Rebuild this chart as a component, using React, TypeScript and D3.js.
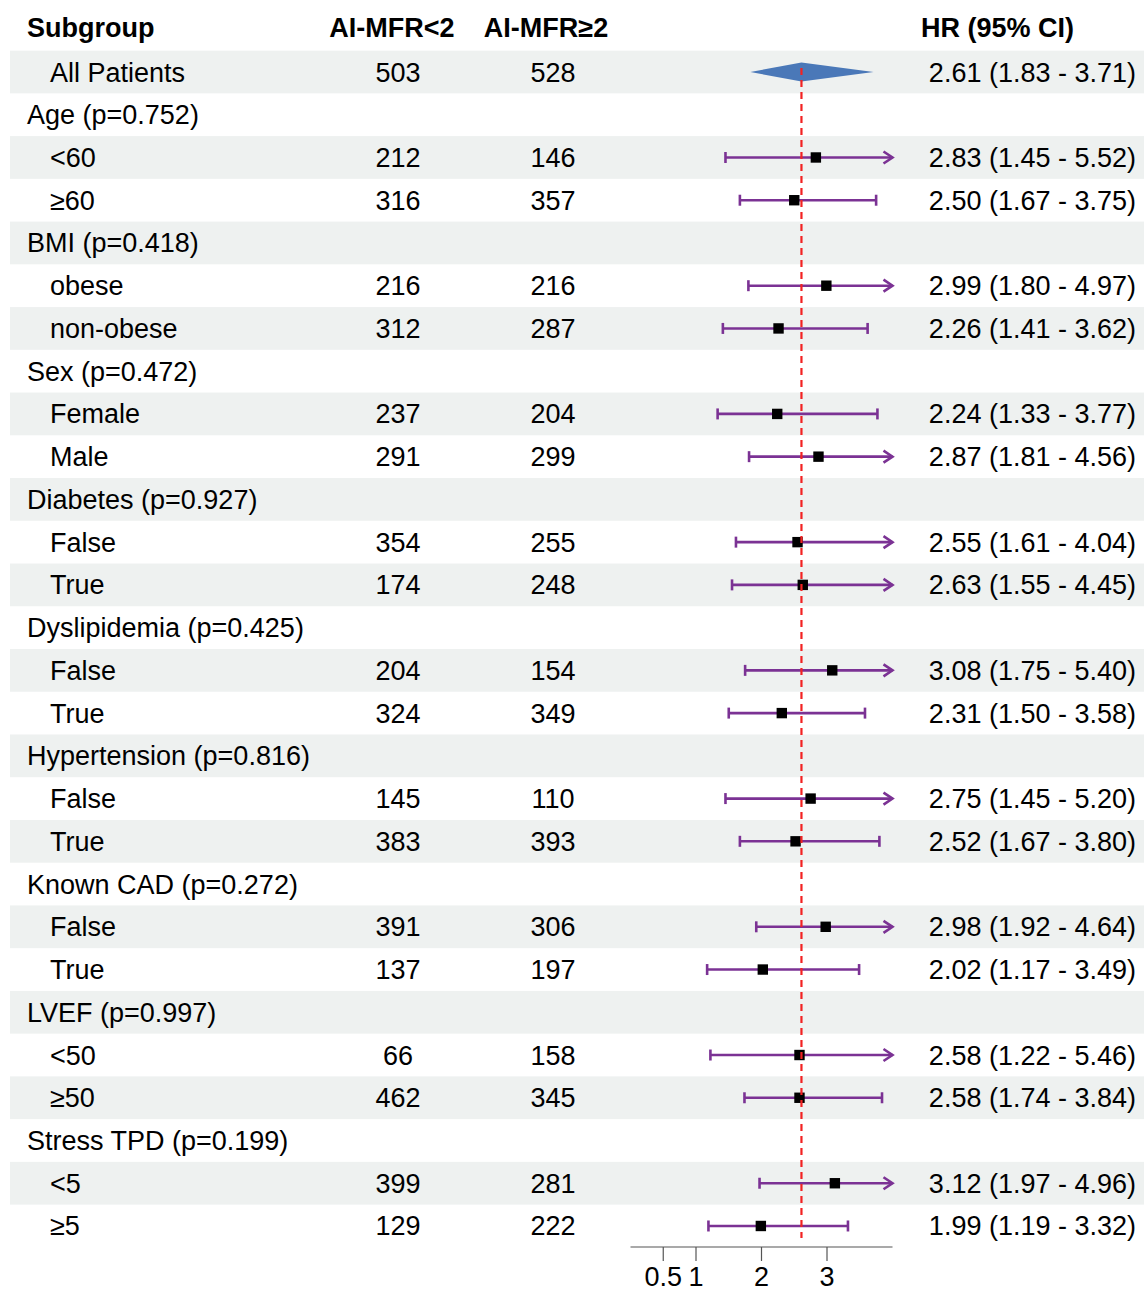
import React from "react";
import * as d3 from "d3";

const labels = [
  "All Patients", "Age (p=0.752)", "<60", "≥60", "BMI (p=0.418)", "obese", "non-obese",
  "Sex (p=0.472)", "Female", "Male", "Diabetes (p=0.927)", "False", "True",
  "Dyslipidemia (p=0.425)", "False", "True", "Hypertension (p=0.816)", "False", "True",
  "Known CAD (p=0.272)", "False", "True", "LVEF (p=0.997)", "<50", "≥50",
  "Stress TPD (p=0.199)", "<5", "≥5",
];
// indent: 1 = subgroup item, 0 = group header
const indent = [1, 0, 1, 1, 0, 1, 1, 0, 1, 1, 0, 1, 1, 0, 1, 1, 0, 1, 1, 0, 1, 1, 0, 1, 1, 0, 1, 1];
const nLow: (number | null)[] = [503, null, 212, 316, null, 216, 312, null, 237, 291, null, 354, 174, null, 204, 324, null, 145, 383, null, 391, 137, null, 66, 462, null, 399, 129];
const nHigh: (number | null)[] = [528, null, 146, 357, null, 216, 287, null, 204, 299, null, 255, 248, null, 154, 349, null, 110, 393, null, 306, 197, null, 158, 345, null, 281, 222];
const hr: (number | null)[] = [2.61, null, 2.83, 2.50, null, 2.99, 2.26, null, 2.24, 2.87, null, 2.55, 2.63, null, 3.08, 2.31, null, 2.75, 2.52, null, 2.98, 2.02, null, 2.58, 2.58, null, 3.12, 1.99];
const lo: (number | null)[] = [1.83, null, 1.45, 1.67, null, 1.80, 1.41, null, 1.33, 1.81, null, 1.61, 1.55, null, 1.75, 1.50, null, 1.45, 1.67, null, 1.92, 1.17, null, 1.22, 1.74, null, 1.97, 1.19];
const hi: (number | null)[] = [3.71, null, 5.52, 3.75, null, 4.97, 3.62, null, 3.77, 4.56, null, 4.04, 4.45, null, 5.40, 3.58, null, 5.20, 3.80, null, 4.64, 3.49, null, 5.46, 3.84, null, 4.96, 3.32];
const headers = ["Subgroup", "AI-MFR<2", "AI-MFR≥2", "HR (95% CI)"];
const xTicks = [0.5, 1, 2, 3];
const refHR = 2.61;

const W = 1144;
const H = 1292;
const FONT = "Arial, 'Liberation Sans', sans-serif";
const FS = 27;

export default function App() {
  const n = labels.length;
  const y = d3.scaleLinear().domain([0, n - 1]).range([72, 72 + 42.74 * (n - 1)]);
  const x = d3.scaleLinear().domain([0, 4]).range([630.5, 892.5]);
  const rowH = 42.74;
  const axisY = 1247;
  const purple = "#7b3294";
  const fmt = d3.format(".2f");

  return (
    <svg width={W} height={H} style={{ position: "absolute", left: 0, top: 0, background: "#fff" }} fontFamily={FONT}>
      <rect x={0} y={0} width={W} height={H} fill="#fff" />
      {/* bands */}
      {labels.map((_, i) =>
        i % 2 === 0 ? (
          <rect key={"b" + i} x={10} y={y(i) - rowH / 2} width={W - 10} height={rowH} fill="#eef1f0" />
        ) : null
      )}
      {/* headers */}
      <g fontWeight="bold" fontSize={FS} fill="#000">
        <text x={27} y={27 + 9.5}>{headers[0]}</text>
        <text x={392} y={27 + 9.5} textAnchor="middle">{headers[1]}</text>
        <text x={546} y={27 + 9.5} textAnchor="middle">{headers[2]}</text>
        <text x={921} y={27 + 9.5}>{headers[3]}</text>
      </g>
      {/* text columns */}
      <g fontSize={FS} fill="#000">
        {labels.map((l, i) => (
          <g key={"t" + i}>
            <text x={indent[i] ? 50 : 27} y={y(i) + 9.5}>{l}</text>
            {nLow[i] !== null && <text x={398} y={y(i) + 9.5} textAnchor="middle">{nLow[i]}</text>}
            {nHigh[i] !== null && <text x={553} y={y(i) + 9.5} textAnchor="middle">{nHigh[i]}</text>}
            {hr[i] !== null && (
              <text x={1136} y={y(i) + 9.5} textAnchor="end">
                {`${fmt(hr[i] as number)} (${fmt(lo[i] as number)} - ${fmt(hi[i] as number)})`}
              </text>
            )}
          </g>
        ))}
      </g>
      {/* CI lines */}
      {labels.map((_, i) => {
        if (hr[i] === null || i === 0) return null;
        const yy = y(i);
        const x1 = x(lo[i] as number);
        const over = (hi[i] as number) > 4;
        const x2 = over ? x(4) : x(hi[i] as number);
        return (
          <g key={"c" + i} stroke={purple} strokeWidth={2.6} fill="none">
            <line x1={x1} x2={x2} y1={yy} y2={yy} />
            <line x1={x1} x2={x1} y1={yy - 5.5} y2={yy + 5.5} />
            {over ? (
              <path d={`M${x2 - 9},${yy - 6} L${x2},${yy} L${x2 - 9},${yy + 6}`} strokeLinejoin="miter" />
            ) : (
              <line x1={x2} x2={x2} y1={yy - 5.5} y2={yy + 5.5} />
            )}
          </g>
        );
      })}
      {/* squares */}
      {labels.map((_, i) =>
        hr[i] === null || i === 0 ? null : (
          <rect key={"s" + i} x={x(hr[i] as number) - 5.2} y={y(i) - 5.2} width={10.4} height={10.4} fill="#000" />
        )
      )}
      {/* summary diamond */}
      <path
        d={`M${x(lo[0] as number)},${y(0)} L${x(hr[0] as number)},${y(0) - 9.5} L${x(hi[0] as number)},${y(0)} L${x(hr[0] as number)},${y(0) + 9.5} Z`}
        fill="#4a78b8"
      />
      {/* reference line */}
      <line
        x1={x(refHR)}
        x2={x(refHR)}
        y1={68}
        y2={1238}
        stroke="#f22222"
        strokeWidth={2.2}
        strokeDasharray="7,5"
      />
      {/* axis */}
      <g stroke="#555" strokeWidth={1.2}>
        <line x1={x(0)} x2={x(4)} y1={axisY} y2={axisY} />
        {xTicks.map((t) => (
          <line key={"k" + t} x1={x(t)} x2={x(t)} y1={axisY} y2={axisY + 14} />
        ))}
      </g>
      <g fontSize={FS} fill="#000">
        {xTicks.map((t) => (
          <text key={"kl" + t} x={x(t)} y={1286} textAnchor="middle">{String(t)}</text>
        ))}
      </g>
    </svg>
  );
}
